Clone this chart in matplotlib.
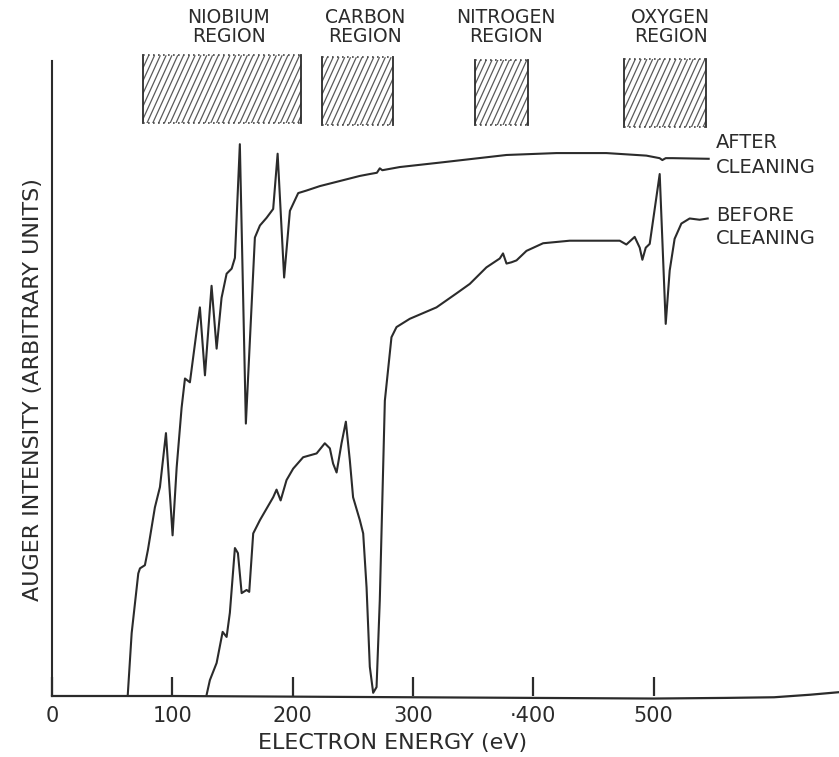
import numpy as np
import matplotlib
matplotlib.use('Agg')
import matplotlib.pyplot as plt
from matplotlib.patches import Rectangle
from matplotlib.collections import LineCollection

# electron energy (eV) / intensity (arbitrary units, 0-100 up the axis)
after_ev = [62.9, 66.2, 71.7, 73.1, 77.2, 79.7, 85.5, 89.7, 94.7, 100.2, 103.6, 107.7,
            110.5, 114.6, 120.2, 122.9, 127.1, 132.6, 136.8, 140.9, 145.1, 149.3, 152.0,
            156.1, 161.1, 168.6, 172.8, 178.3, 183.8, 187.5, 192.9, 197.7, 204.6, 211.5,
            222.6, 239.2, 255.8, 264.1, 270.0, 272.4, 274.5, 289.0, 322.3, 377.7, 419.2,
            460.7, 493.9, 504.9, 507.2, 510.0, 515.8, 545.7]
after_int = [0.0, 9.9, 19.3, 20.1, 20.6, 23.0, 29.7, 32.9, 41.4, 25.3, 36.0, 45.4,
             50.0, 49.4, 57.5, 61.2, 50.5, 64.6, 54.7, 62.7, 66.5, 67.3, 69.0,
             86.9, 42.9, 72.2, 74.1, 75.3, 76.7, 85.4, 65.9, 76.4, 79.2, 79.6,
             80.3, 81.1, 81.9, 82.2, 82.4, 83.1, 82.8, 83.3, 84.0, 85.2, 85.5,
             85.5, 85.1, 84.7, 84.4, 84.7, 84.7, 84.6]

before_ev = [128.5, 131.2, 136.8, 141.8, 145.1, 147.8, 152.0, 154.5, 157.6, 161.7, 163.9,
             167.2, 172.8, 183.8, 186.6, 190.0, 194.9, 200.4, 208.7, 219.9, 226.7, 230.9,
             233.6, 236.5, 240.6, 244.2, 247.5, 250.2, 255.8, 258.6, 261.4, 264.1, 266.9,
             269.7, 272.4, 276.6, 282.1, 286.3, 297.3, 319.5, 336.1, 347.2, 361.0, 372.1,
             374.8, 377.7, 381.8, 386.0, 394.3, 408.1, 430.2, 471.8, 477.3, 484.2, 488.4,
             490.6, 493.4, 496.7, 505.0, 510.0, 513.3, 517.4, 523.0, 529.9, 538.2, 544.9]
before_int = [0.2, 2.5, 5.2, 10.1, 9.3, 13.1, 23.3, 22.5, 16.2, 16.7, 16.4,
              25.6, 27.7, 31.3, 32.5, 30.8, 34.0, 35.8, 37.6, 38.2, 39.8, 39.0,
              36.6, 35.2, 39.8, 43.2, 37.1, 31.3, 27.7, 25.6, 17.1, 4.6, 0.5,
              1.4, 15.1, 46.5, 56.5, 58.1, 59.4, 61.2, 63.4, 64.9, 67.5, 68.9,
              69.7, 68.1, 68.3, 68.6, 70.1, 71.3, 71.7, 71.7, 71.1, 72.3, 70.6,
              68.7, 70.6, 71.2, 82.2, 58.6, 67.0, 72.0, 74.4, 75.2, 75.0, 75.2]

base_ev = [0, 100, 200, 300, 400, 500, 560, 600, 630, 654]
base_int = [0.0, 0.0, -0.1, -0.2, -0.3, -0.4, -0.3, -0.2, 0.2, 0.6]

region_names = ['NIOBIUM', 'CARBON', 'NITROGEN', 'OXYGEN']
region_lo = [75.6, 224.0, 351.3, 475.1]
region_hi = [206.8, 283.5, 395.6, 543.5]
region_bottom = [90.2, 89.9, 89.9, 89.6]
region_top = [100.9, 100.6, 100.2, 100.3]
region_text_x = [147, 260, 377, 514]

xtick_vals = [0, 100, 200, 300, 400, 500]
xtick_labels = ['0', '100', '200', '300', '·400', '500']

ink = '#2b2b2b'

fig = plt.figure(figsize=(8.39, 7.57), dpi=100)
ax = fig.add_axes([52 / 839, 61 / 757, 787 / 839, 635 / 757])
ax.set_xlim(0, 654)
ax.set_ylim(0, 100)

ax.plot(after_ev, after_int, color=ink, lw=1.5, solid_joinstyle='round')
ax.plot(before_ev, before_int, color=ink, lw=1.5, solid_joinstyle='round')
ax.plot(base_ev, base_int, color=ink, lw=1.6, clip_on=False)

# steep hand-drawn style hatching, ~6 px apart
px_x = 787 / 654      # pixels per eV
px_y = 635 / 100      # pixels per unit
slope = 2.2           # pixel slope of the hatch strokes
step = 5.8 / px_x
for name, lo, hi, b, t, tx in zip(region_names, region_lo, region_hi,
                                  region_bottom, region_top, region_text_x):
    rect = Rectangle((lo, b), hi - lo, t - b, fill=False, lw=0, clip_on=False)
    ax.add_patch(rect)
    run = (t - b) * px_y / slope / px_x
    segs = [[(x0, b), (x0 + run, t)] for x0 in np.arange(lo - run, hi, step)]
    lc = LineCollection(segs, colors='#5a5a5a', linewidths=0.9)
    ax.add_collection(lc)
    lc.set_clip_path(rect)
    ax.plot([lo, lo], [b, t], color=ink, lw=1.3, clip_on=False)
    ax.plot([hi, hi], [b, t], color=ink, lw=1.3, clip_on=False)
    ax.plot([lo, hi], [t, t], color='#444444', lw=1.2, ls=(0, (1, 2)), clip_on=False)
    ax.plot([lo, hi], [b, b], color='#444444', lw=1.2, ls=(0, (1, 2)), clip_on=False)
    ax.text(tx, 106.8, name, ha='center', va='center', fontsize=13.5, color=ink, clip_on=False)
    ax.text(tx, 103.8, 'REGION', ha='center', va='center', fontsize=13.5, color=ink, clip_on=False)

ax.text(552, 87.1, 'AFTER', ha='left', va='center', fontsize=14, color=ink)
ax.text(552, 83.3, 'CLEANING', ha='left', va='center', fontsize=14, color=ink)
ax.text(552, 75.7, 'BEFORE', ha='left', va='center', fontsize=14, color=ink)
ax.text(552, 72.1, 'CLEANING', ha='left', va='center', fontsize=14, color=ink)

for s in ['top', 'right', 'bottom']:
    ax.spines[s].set_visible(False)
ax.spines['left'].set_color(ink)
ax.spines['left'].set_linewidth(1.5)

ax.set_yticks([])
ax.set_xticks(xtick_vals)
ax.set_xticklabels(xtick_labels, fontsize=15, color=ink)
ax.tick_params(axis='x', direction='in', length=14, width=1.6, color=ink, pad=7)

fig.text(393 / 839, 1 - 743 / 757, 'ELECTRON ENERGY (eV)', ha='center', va='center',
         fontsize=16, color=ink)
fig.text(33 / 839, 1 - 390 / 757, 'AUGER INTENSITY (ARBITRARY UNITS)', ha='center',
         va='center', rotation=90, fontsize=16, color=ink)

fig.savefig('out.png', dpi=100, facecolor='white')
